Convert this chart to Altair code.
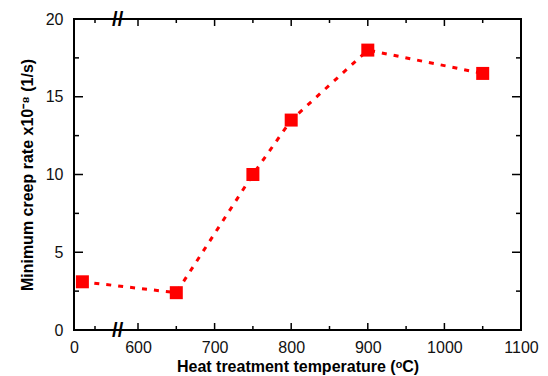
import altair as alt
import pandas as pd

# data
temps = [20, 650, 750, 800, 900, 1050]
rates = [3.1, 2.4, 10.0, 13.5, 18.0, 16.5]

x_labels = [0, 600, 700, 800, 900, 1000, 1100]
x_minor = [50, 650, 750, 850, 950, 1050]
y_labels = [0, 5, 10, 15, 20]
y_minor = [2.5, 7.5, 12.5, 17.5]
break_pos = [340]

W, H = 447, 311
FONT = "Liberation Sans"
XT = "Heat treatment temperature (\u1d52C)"
YT = "Minimum creep rate x10\u207b\u2078 (1/s)"

xscale = alt.Scale(domain=[0, 50, 600, 1100], range=[0, 21, 64, W])
yscale = alt.Scale(domain=[0, 20], nice=False)

xaxis = alt.Axis(values=x_labels, format="d", tickSize=0, domain=False, grid=False,
                 labelPadding=9, titlePadding=3, labelFlush=False)
yaxis = alt.Axis(values=y_labels, format="d", tickSize=0, domain=False, grid=False,
                 labelPadding=11, titlePadding=10)


def X(field):
    return alt.X(field, type="quantitative", scale=xscale, axis=xaxis, title=XT)


def Y(field):
    return alt.Y(field, type="quantitative", scale=yscale, axis=yaxis, title=YT)


df = pd.DataFrame({"t": temps, "r": rates})
xmaj = pd.DataFrame({"t": x_labels})
xmin = pd.DataFrame({"t": x_minor})
ymaj = pd.DataFrame({"r": y_labels})
ymin = pd.DataFrame({"r": y_minor})
brk = pd.DataFrame({"t": break_pos})

line = alt.Chart(df).mark_line(color="#ff0000", strokeWidth=3, strokeDash=[5, 7]).encode(
    x=X("t"), y=Y("r"))
pts = alt.Chart(df).mark_square(color="#ff0000", size=169, opacity=1).encode(
    x=X("t"), y=Y("r"))

tk = dict(color="black", strokeWidth=1.5)
layers = [line, pts]
for d, L in ((xmaj, 7), (xmin, 4)):
    layers.append(alt.Chart(d).mark_rule(**tk).encode(x=X("t"), y=alt.value(H), y2=alt.value(H - L)))
    layers.append(alt.Chart(d).mark_rule(**tk).encode(x=X("t"), y=alt.value(0), y2=alt.value(L)))
for d, L in ((ymaj, 9), (ymin, 5)):
    layers.append(alt.Chart(d).mark_rule(**tk).encode(y=Y("r"), x=alt.value(0), x2=alt.value(L)))
    layers.append(alt.Chart(d).mark_rule(**tk).encode(y=Y("r"), x=alt.value(W), x2=alt.value(W - L)))
for yv in (0, H):
    layers.append(alt.Chart(brk).mark_text(text="//", fontSize=20, font=FONT, fontWeight="bold",
                                           baseline="middle", align="center", color="black",
                                           dy=1).encode(
        x=X("t"), y=alt.value(yv)))

chart = alt.layer(*layers).properties(
    width=W, height=H, autosize="none",
    padding={"left": 66, "top": 11, "right": 19, "bottom": 48},
).configure_view(stroke="black", strokeWidth=2).configure_axis(
    labelFont=FONT, labelFontSize=16, labelColor="#111111",
    titleFont=FONT, titleFontSize=16, titleFontWeight="bold", titleColor="#000000",
)

chart.save("out.html", embed_options={"renderer": "svg", "actions": False})
